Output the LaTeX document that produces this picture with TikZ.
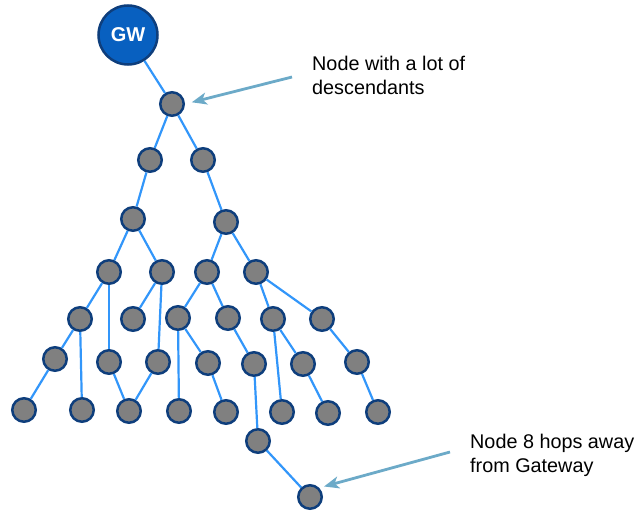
\documentclass[tikz,border=0pt]{standalone}
\usepackage{fontspec}
\setmainfont{Liberation Sans}
\usepackage{tikz}
\usetikzlibrary{arrows.meta}
\definecolor{gwcol}{RGB}{8,96,192}
\definecolor{rimcol}{RGB}{14,62,124}
\definecolor{linkcol}{RGB}{50,150,250}
\definecolor{notecol}{RGB}{108,170,200}

\begin{document}
\begin{tikzpicture}[x=1pt, y=-1pt,
  gwy/.style={circle, draw=rimcol, line width=2.5pt, fill=gwcol, minimum size=59pt, inner sep=0pt,
              text=white, font=\fontsize{20}{20}\selectfont\bfseries},
  mote/.style={circle, draw=rimcol, line width=2.5pt, fill=black!50, minimum size=23.5pt, inner sep=0pt},
  link/.style={linkcol, line width=2.2pt},
  ar/.style={-{Stealth[length=15pt, width=12pt, inset=4pt]}, notecol, line width=2.8pt},
  lbl/.style={font=\fontsize{19.8}{24}\selectfont, align=left, anchor=base west, inner sep=0pt}
]
\useasboundingbox (0,0) rectangle (638,511);

\node[gwy]  (gw)  at (128,35)  {GW};
\node[mote] (hub) at (172,104) {};

\node[mote] (r2a) at (150,160) {};
\node[mote] (r2b) at (203,160) {};

\node[mote] (r3a) at (133,219) {};
\node[mote] (r3b) at (226,222) {};

\node[mote] (r4a) at (109,272) {};
\node[mote] (r4b) at (162,272) {};
\node[mote] (r4c) at (207,272) {};
\node[mote] (r4d) at (256,272) {};

\node[mote] (r5a) at (80,319)  {};
\node[mote] (r5b) at (133,319) {};
\node[mote] (r5c) at (178,318) {};
\node[mote] (r5d) at (228,318) {};
\node[mote] (r5e) at (273,319) {};
\node[mote] (r5f) at (322,319) {};

\node[mote] (r6a) at (55,359)  {};
\node[mote] (r6b) at (109,362) {};
\node[mote] (r6c) at (158,362) {};
\node[mote] (r6d) at (208,363) {};
\node[mote] (r6e) at (254,364) {};
\node[mote] (r6f) at (303,364) {};
\node[mote] (r6g) at (357,362) {};

\node[mote] (r7a) at (24,410)  {};
\node[mote] (r7b) at (82,410)  {};
\node[mote] (r7c) at (129,411) {};
\node[mote] (r7d) at (179,411) {};
\node[mote] (r7e) at (226,412) {};
\node[mote] (r7f) at (282,412) {};
\node[mote] (r7g) at (328,413) {};
\node[mote] (r7h) at (378,412) {};

\node[mote] (t1) at (258,441) {};
\node[mote] (t2) at (310,497) {};

\foreach \a/\b in {gw/hub,hub/r2a,hub/r2b,r2a/r3a,r2b/r3b,r3a/r4a,r3a/r4b,r3b/r4c,r3b/r4d,
                   r4a/r5a,r4a/r6b,r4b/r5b,r4b/r6c,r4c/r5c,r4c/r5d,r4d/r5e,r4d/r5f,
                   r5a/r6a,r5a/r7b,r5c/r6d,r5c/r7d,r5d/r6e,r5e/r7f,r5e/r6f,r5f/r6g,
                   r6a/r7a,r6b/r7c,r6c/r7c,r6d/r7e,r6e/t1,r6f/r7g,r6g/r7h,t1/t2}
  \draw[link] (\a) -- (\b);

% base anchor sits on the last line
\node[lbl] (busy) at (312,94.5)  {Node with a lot of\\descendants};
\node[lbl] (far)  at (470,472.5) {Node 8 hops away\\from Gateway};

\coordinate (busytail) at (292,77);
\coordinate (fartail)  at (450,452);
\draw[ar, shorten >=7pt] (busytail) -- (hub.east);
\draw[ar, shorten >=5pt] (fartail) -- (t2.45);

\end{tikzpicture}
\end{document}
